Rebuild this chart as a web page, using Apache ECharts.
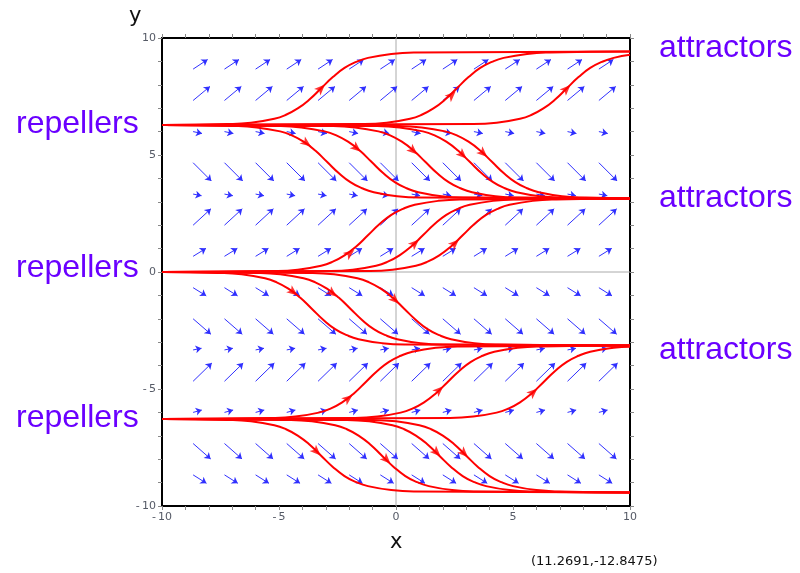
<!DOCTYPE html>
<html>
<head>
<meta charset="utf-8">
<script src="https://cdn.jsdelivr.net/npm/echarts@6/dist/echarts.min.js"></script>
<style>html,body{margin:0;padding:0;background:#fff}#c{width:800px;height:573px}</style>
</head>
<body>
<div id="c"></div>
<script>
// ---- axis ticks ----
const xTicks = [-10, -5, 0, 5, 10];
const yTicks = [-10, -5, 0, 5, 10];

// ---- direction field (grid points and arrow offsets per row) ----
const fieldCols = [-8.67, -7.33, -6, -4.67, -3.33, -2, -0.67, 0.67, 2, 3.33, 4.67, 6, 7.33, 8.67];
const fieldRows = [8.67, 7.33, 6, 4.67, 3.33, 2, 0.67, -0.67, -2, -3.33, -4.67, -6, -7.33, -8.67];
const fieldDx   = [0.62, 0.72, 0.38, 0.78, 0.36, 0.76, 0.55, 0.56, 0.76, 0.36, 0.80, 0.37, 0.75, 0.57];
const fieldDy   = [0.41, 0.60, -0.08, -0.78, -0.07, 0.70, 0.34, -0.35, -0.66, 0.07, 0.78, 0.10, -0.66, -0.36];

// ---- reference lines ----
const zeroLineH = [[-10, 0], [10, 0]];
const zeroLineV = [[0, -10], [0, 10]];

// ---- solution curves ----
const curveA1 = [[-10,6.28],[-7.2,6.32],[-6.2,6.38],[-5.2,6.55],[-4.7,6.72],[-4.2,6.99],[-3.7,7.37],[-3.2,7.85],[-2.7,8.33],[-2.2,8.72],[-1.7,8.98],[-1.2,9.15],[-0.2,9.32],[0.8,9.38],[10,9.42]];
const curveA2 = [[-10,6.28],[-1.4,6.32],[-0.4,6.38],[0.6,6.55],[1.1,6.72],[1.6,6.99],[2.1,7.37],[2.6,7.85],[3.1,8.33],[3.6,8.72],[4.1,8.98],[4.6,9.15],[5.6,9.32],[6.6,9.38],[10,9.42]];
const curveA3 = [[-10,6.28],[3.3,6.32],[4.3,6.38],[5.3,6.55],[5.8,6.72],[6.3,6.99],[6.8,7.37],[7.3,7.85],[7.8,8.33],[8.3,8.72],[8.8,8.98],[9.3,9.15],[10,9.28]];

const curveB1 = [[-10,6.28],[-6.95,6.24],[-5.95,6.18],[-4.95,6.01],[-4.45,5.84],[-3.95,5.57],[-3.45,5.19],[-2.95,4.71],[-2.45,4.23],[-1.95,3.84],[-1.45,3.58],[-0.95,3.41],[0.05,3.24],[1.05,3.18],[10,3.14]];
const curveB2 = [[-10,6.28],[-5.05,6.24],[-4.05,6.18],[-3.05,6.01],[-2.55,5.84],[-2.05,5.57],[-1.55,5.19],[-1.05,4.71],[-0.55,4.23],[-0.05,3.84],[0.45,3.58],[0.95,3.41],[1.95,3.24],[2.95,3.18],[10,3.14]];
const curveB3 = [[-10,6.28],[-2.75,6.24],[-1.75,6.18],[-0.75,6.01],[-0.25,5.84],[0.25,5.57],[0.75,5.19],[1.25,4.71],[1.75,4.23],[2.25,3.84],[2.75,3.58],[3.25,3.41],[4.25,3.24],[5.25,3.18],[10,3.14]];
const curveB4 = [[-10,6.28],[-0.85,6.24],[0.15,6.18],[1.15,6.01],[1.65,5.84],[2.15,5.57],[2.65,5.19],[3.15,4.71],[3.65,4.23],[4.15,3.84],[4.65,3.58],[5.15,3.41],[6.15,3.24],[7.15,3.18],[10,3.14]];
const curveB5 = [[-10,6.28],[0.1,6.24],[1.1,6.18],[2.1,6.01],[2.6,5.84],[3.1,5.57],[3.6,5.19],[4.1,4.71],[4.6,4.23],[5.1,3.84],[5.6,3.58],[6.1,3.41],[7.1,3.24],[8.1,3.18],[10,3.14]];

const curveC1 = [[-10,0],[-5.2,0.04],[-4.2,0.10],[-3.2,0.27],[-2.7,0.44],[-2.2,0.71],[-1.7,1.09],[-1.2,1.57],[-0.7,2.05],[-0.2,2.44],[0.3,2.70],[0.8,2.87],[1.8,3.04],[2.8,3.10],[10,3.14]];
const curveC2 = [[-10,0],[-2.85,0.04],[-1.85,0.10],[-0.85,0.27],[-0.35,0.44],[0.15,0.71],[0.65,1.09],[1.15,1.57],[1.65,2.05],[2.15,2.44],[2.65,2.70],[3.15,2.87],[4.15,3.04],[5.15,3.10],[10,3.14]];
const curveC3 = [[-10,0],[-1.15,0.04],[-0.15,0.10],[0.85,0.27],[1.35,0.44],[1.85,0.71],[2.35,1.09],[2.85,1.57],[3.35,2.05],[3.85,2.44],[4.35,2.70],[4.85,2.87],[5.85,3.04],[6.85,3.10],[10,3.14]];

const curveD1 = [[-10,0],[-7.6,-0.04],[-6.6,-0.10],[-5.6,-0.27],[-5.1,-0.44],[-4.6,-0.71],[-4.1,-1.09],[-3.6,-1.57],[-3.1,-2.05],[-2.6,-2.44],[-2.1,-2.70],[-1.6,-2.87],[-0.6,-3.04],[0.4,-3.10],[10,-3.14]];
const curveD2 = [[-10,0],[-5.95,-0.04],[-4.95,-0.10],[-3.95,-0.27],[-3.45,-0.44],[-2.95,-0.71],[-2.45,-1.09],[-1.95,-1.57],[-1.45,-2.05],[-0.95,-2.44],[-0.45,-2.70],[0.05,-2.87],[1.05,-3.04],[2.05,-3.10],[10,-3.14]];
const curveD3 = [[-10,0],[-3.65,-0.04],[-2.65,-0.10],[-1.65,-0.27],[-1.15,-0.44],[-0.65,-0.71],[-0.15,-1.09],[0.35,-1.57],[0.85,-2.05],[1.35,-2.44],[1.85,-2.70],[2.35,-2.87],[3.35,-3.04],[4.35,-3.10],[10,-3.14]];

const curveE1 = [[-10,-6.28],[-5.3,-6.24],[-4.3,-6.18],[-3.3,-6.01],[-2.8,-5.84],[-2.3,-5.57],[-1.8,-5.19],[-1.3,-4.71],[-0.8,-4.23],[-0.3,-3.84],[0.2,-3.58],[0.7,-3.41],[1.7,-3.24],[2.7,-3.18],[10,-3.14]];
const curveE2 = [[-10,-6.28],[-1.8,-6.24],[-0.8,-6.18],[0.2,-6.01],[0.7,-5.84],[1.2,-5.57],[1.7,-5.19],[2.2,-4.71],[2.7,-4.23],[3.2,-3.84],[3.7,-3.58],[4.2,-3.41],[5.2,-3.24],[6.2,-3.18],[10,-3.14]];
const curveE3 = [[-10,-6.28],[2.3,-6.24],[3.3,-6.18],[4.3,-6.01],[4.8,-5.84],[5.3,-5.57],[5.8,-5.19],[6.3,-4.71],[6.8,-4.23],[7.3,-3.84],[7.8,-3.58],[8.3,-3.41],[9.3,-3.24],[10,-3.19]];

const curveF1 = [[-10,-6.28],[-7.2,-6.32],[-6.2,-6.38],[-5.2,-6.55],[-4.7,-6.72],[-4.2,-6.99],[-3.7,-7.37],[-3.2,-7.85],[-2.7,-8.33],[-2.2,-8.72],[-1.7,-8.98],[-1.2,-9.15],[-0.2,-9.32],[0.8,-9.38],[10,-9.42]];
const curveF2 = [[-10,-6.28],[-4.6,-6.32],[-3.6,-6.38],[-2.6,-6.55],[-2.1,-6.72],[-1.6,-6.99],[-1.1,-7.37],[-0.6,-7.85],[-0.1,-8.33],[0.4,-8.72],[0.9,-8.98],[1.4,-9.15],[2.4,-9.32],[3.4,-9.38],[10,-9.42]];
const curveF3 = [[-10,-6.28],[-2.15,-6.32],[-1.15,-6.38],[-0.15,-6.55],[0.35,-6.72],[0.85,-6.99],[1.35,-7.37],[1.85,-7.85],[2.35,-8.33],[2.85,-8.72],[3.35,-8.98],[3.85,-9.15],[4.85,-9.32],[5.85,-9.38],[10,-9.42]];
const curveF4 = [[-10,-6.28],[-1,-6.32],[0,-6.38],[1,-6.55],[1.5,-6.72],[2,-6.99],[2.5,-7.37],[3,-7.85],[3.5,-8.33],[4,-8.72],[4.5,-8.98],[5,-9.15],[6,-9.32],[7,-9.38],[10,-9.42]];

const curves = [curveA1, curveA2, curveA3, curveB1, curveB2, curveB3, curveB4, curveB5,
                curveC1, curveC2, curveC3, curveD1, curveD2, curveD3,
                curveE1, curveE2, curveE3, curveF1, curveF2, curveF3, curveF4];

// ---- red arrowheads on curves: [x, y, direction angle in degrees] ----
const curveArrows = [
  [-3.2, 7.85, 45], [2.38, 7.56, 44], [7.29, 7.83, 45],
  [-3.82, 5.5, -37], [-1.68, 5.29, -40], [0.74, 5.18, -42], [2.85, 5.0, -44], [3.73, 5.07, -43],
  [-1.97, 0.8, 38], [0.81, 1.23, 43], [2.52, 1.23, 43],
  [-4.39, -0.86, -38], [-2.71, -0.91, -38], [-0.04, -1.2, -43],
  [-2.04, -5.4, 38], [1.85, -5.04, 43], [5.87, -5.14, 42],
  [-3.39, -7.68, -45], [-0.4, -8.03, -45], [1.74, -7.72, -45], [2.91, -7.75, -45]
];

// ---- annotations ----
const repellerLabels = [['repellers', 127], ['repellers', 271], ['repellers', 421]];
const attractorLabels = [['attractors', 51], ['attractors', 201], ['attractors', 353]];

const chart = echarts.init(document.getElementById('c'), null, {renderer: 'canvas'});

function fmt(v) {
  if (xTicks.indexOf(v) < 0) return '';
  return v < 0 ? '-\u2009' + Math.abs(v) : String(v);
}

const fieldData = [];
fieldRows.forEach((y, i) => {
  fieldCols.forEach(x => {
    fieldData.push({coords: [[x, y], [x + fieldDx[i], y + fieldDy[i]]]});
  });
});

const labelStyle = {color: '#555a66', fontSize: 11, fontFamily: 'DejaVu Sans', margin: 6};
const tickStyle = {show: true, inside: false, length: 4, lineStyle: {color: '#888', width: 1}};
const lineStyleAxis = {show: true, onZero: false, lineStyle: {color: '#000', width: 2}};

const series = [];
series.push({type: 'line', data: zeroLineH, showSymbol: false, silent: true, z: 1,
  lineStyle: {color: '#aaaaaa', width: 1}});
series.push({type: 'line', data: zeroLineV, showSymbol: false, silent: true, z: 1,
  lineStyle: {color: '#aaaaaa', width: 1}});
series.push({type: 'lines', coordinateSystem: 'cartesian2d', data: fieldData, silent: true, z: 2,
  symbol: ['none', 'arrow'], symbolSize: 6,
  lineStyle: {color: '#3030ff', width: 1, opacity: 1}});
curves.forEach(c => {
  series.push({type: 'line', data: c, showSymbol: false, silent: true, z: 3,
    smooth: 0.5,
    lineStyle: {color: '#ff0000', width: 2}});
});
series.push({type: 'scatter', silent: true, z: 4,
  data: curveArrows.map(a => ({value: [a[0], a[1]], symbolRotate: a[2] - 90})),
  symbol: 'path://M5,0 L10,12 L5,9 L0,12 Z', symbolSize: [9, 11],
  itemStyle: {color: '#ff0000'}});

const graphics = [];
repellerLabels.forEach(l => graphics.push({type: 'text', left: 16, top: l[1] - 19,
  style: {text: l[0], fill: '#6a00ff', font: '32px "Liberation Sans", Arial, sans-serif'}}));
attractorLabels.forEach(l => graphics.push({type: 'text', left: 659, top: l[1] - 19,
  style: {text: l[0], fill: '#6a00ff', font: '32px "Liberation Sans", Arial, sans-serif'}}));
graphics.push({type: 'text', left: 129, top: 6, style: {text: 'y', fill: '#111', font: '21px "DejaVu Sans", sans-serif'}});
graphics.push({type: 'text', left: 390, top: 532, style: {text: 'x', fill: '#111', font: '21px "DejaVu Sans", sans-serif'}});
graphics.push({type: 'text', left: 531, top: 555, style: {text: '(11.2691,-12.8475)', fill: '#111', font: '13px "DejaVu Sans", sans-serif'}});

chart.setOption({
  animation: false,
  backgroundColor: '#fff',
  grid: {left: 162, right: 170, top: 38, bottom: 67, containLabel: false},
  xAxis: [
    {type: 'value', min: -10, max: 10, interval: 1, position: 'bottom',
     axisLine: lineStyleAxis, axisTick: tickStyle, splitLine: {show: false},
     axisLabel: Object.assign({formatter: fmt, showMinLabel: true, showMaxLabel: true, hideOverlap: false}, labelStyle)},
    {type: 'value', min: -10, max: 10, interval: 1, position: 'top',
     axisLine: lineStyleAxis, axisTick: tickStyle, splitLine: {show: false}, axisLabel: {show: false}}
  ],
  yAxis: [
    {type: 'value', min: -10, max: 10, interval: 1, position: 'left',
     axisLine: lineStyleAxis, axisTick: tickStyle, splitLine: {show: false},
     axisLabel: Object.assign({formatter: fmt, showMinLabel: true, showMaxLabel: true, hideOverlap: false}, labelStyle)},
    {type: 'value', min: -10, max: 10, interval: 1, position: 'right',
     axisLine: lineStyleAxis, axisTick: tickStyle, splitLine: {show: false}, axisLabel: {show: false}}
  ],
  graphic: graphics,
  series: series
});
</script>
</body>
</html>
